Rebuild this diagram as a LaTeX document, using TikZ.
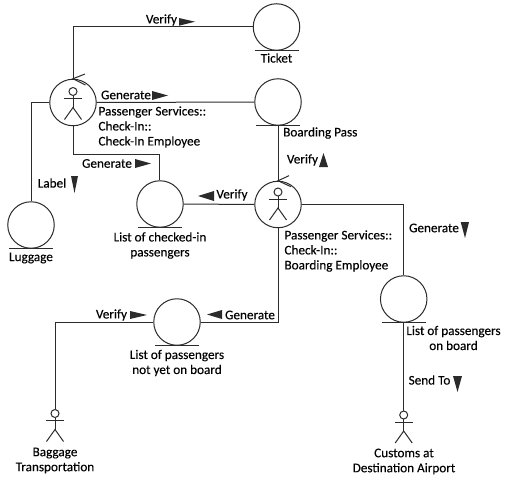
\documentclass[tikz,border=0pt]{standalone}
\usepackage{fontspec}
\setmainfont{Carlito}
\definecolor{ink}{HTML}{2B2B2B}
\tikzset{
  x=1pt,y=-1pt,
  every path/.style={draw=ink,line width=1pt},
  obj/.style={circle,draw=ink,line width=1pt,minimum size=46.5pt,inner sep=0pt},
  lbl/.style={draw=none,text=black,font=\fontsize{13.2}{15}\selectfont\addfontfeature{FakeBold=0.15},inner sep=0pt,align=center},
  lbll/.style={lbl,align=left,anchor=west},
  head/.style={circle,draw=ink,line width=1pt,minimum size=8pt,inner sep=0pt},
  tri/.style={draw=none,fill=ink},
  stick/.pic={
    \draw (-9,7)--(9,7);
    \draw (0,4)--(0,16);
    \draw (-8.5,28)--(0,16)--(8.5,28);
  }
}
\newcommand{\under}[1]{\draw ([xshift=-22pt]#1.south) -- ([xshift=22pt]#1.south);}
\begin{document}
\begin{tikzpicture}
\useasboundingbox[draw=none] (0,0) rectangle (513,487);
% objects
\node[obj] (ticket) at (276.5,27) {};
\node[obj] (pass) at (278,102) {};
\node[obj] (checkin) at (73,102.5) {};
\node[obj] (luggage) at (31,225) {};
\node[obj] (listin) at (160,204) {};
\node[obj] (boarding) at (278,204.5) {};
\node[obj] (onboard) at (403.7,299) {};
\node[obj] (notyet) at (177,322) {};
\under{ticket}\under{pass}\under{luggage}\under{listin}\under{onboard}\under{notyet}
% actors
\node[head] (chead) at (73,91.5) {};
\pic at (chead.center) {stick};
\node[head] (bhead) at (278,192) {};
\pic at (bhead.center) {stick};
\node[head] (baghead) at (55,413.5) {};
\pic at (baghead.center) {stick};
\node[head] (cushead) at (403.7,415) {};
\pic at (cushead.center) {stick};
% connectors
\draw (checkin.north) |- (ticket.west);
\draw (checkin.east) -- (pass.west);
\draw (checkin.west) -| (luggage.north);
\coordinate (c1) at (159.5,154);
\draw (checkin.south) |- (c1) -- (listin.north -| c1);
\draw (pass.south) -- (boarding.north);
\draw (boarding.west) -- (listin.east);
\draw (boarding.east) -| (onboard.north);
\draw (boarding.south) |- (notyet.east);
\draw (notyet.west) -| (baghead.north);
\draw (onboard.south) -- (cushead.north);
% navigability ticks
\draw (85,74) -- (checkin.north) -- (85.5,85);
\draw (289,175.7) -- (boarding.north) -- (291,186.7);
% direction triangles
\fill[tri] (179,18)--(195,21.7)--(179,25.7)--cycle;
\fill[tri] (152,91)--(168,95.5)--(152,100)--cycle;
\fill[tri] (135,159)--(151,163.5)--(135,168)--cycle;
\fill[tri] (71,176)--(78,176)--(74.5,193)--cycle;
\fill[tri] (214,191)--(198,196)--(214,201)--cycle;
\fill[tri] (319,167)--(328,167)--(323.5,153)--cycle;
\fill[tri] (460.7,222)--(469,222)--(465,238)--cycle;
\fill[tri] (453,376)--(462,376)--(457.5,392)--cycle;
\fill[tri] (222,310)--(207,314.5)--(222,319)--cycle;
\fill[tri] (130,311)--(147,315)--(130,319)--cycle;
% labels
\node[lbl] (t1) at (161.5,20) {Verify};
\node[lbl] (t2) at (126,95) {Generate};
\node[lbl] (t3) at (107,163.5) {Generate};
\node[lbl] (t4) at (52,183) {Label};
\node[lbl] (t5) at (232,195) {Verify};
\node[lbl] (t6) at (276.5,58) {Ticket};
\node[lbll] (t7) at (282.7,133) {Boarding Pass};
\node[lbl] (t8) at (302.5,160) {Verify};
\node[lbl] (t9) at (31,258) {Luggage};
\node[lbl] (t10) at (160,245.5) {List of checked-in\\passengers};
\node[lbll] (t11) at (98,127) {Passenger Services::\\Check-In::\\Check-In Employee};
\node[lbll] (t12) at (284,251) {Passenger Services::\\Check-In::\\Boarding Employee};
\node[lbl] (t13) at (434,228) {Generate};
\node[lbl] (t14) at (453.5,338) {List of passengers\\on board};
\node[lbl] (t15) at (429.5,380) {Send To};
\node[lbl] (t16) at (404,461.5) {Customs at\\Destination Airport};
\node[lbl] (t17) at (177,363) {List of passengers\\not yet on board};
\node[lbl] (t18) at (55,460.5) {Baggage\\Transportation};
\node[lbl] (t19) at (111.5,315) {Verify};
\node[lbl] (t20) at (250,315) {Generate};
\end{tikzpicture}
\end{document}
